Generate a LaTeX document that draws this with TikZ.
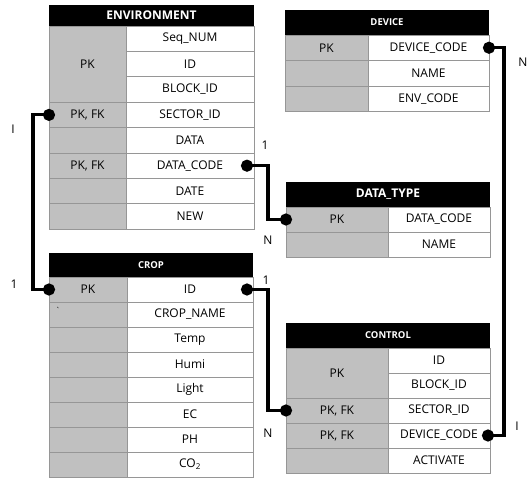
\documentclass[tikz,border=0pt]{standalone}
\usepackage{fontspec}
\setmainfont{Open Sans}
\usetikzlibrary{positioning,arrows.meta}
\definecolor{keygray}{RGB}{192,192,192}
\definecolor{linegray}{RGB}{150,150,150}
\tikzstyle{link} = [{Circle[length=12pt]}-{Circle[length=12pt]}, line width=3.2pt, shorten <=-6pt, shorten >=-6pt]
\tikzstyle{cell} = [rectangle, draw=linegray, line width=0.6pt, inner sep=0pt, outer sep=0pt,
minimum height=25pt, font=\fontsize{12}{14}\selectfont]
\tikzstyle{keycell} = [cell, fill=keygray]
\tikzstyle{fieldcell} = [cell, fill=white]
\tikzstyle{head} = [rectangle, fill=black, text=white, inner sep=0pt, outer sep=0pt, anchor=north west, minimum height=25pt]
\tikzstyle{bighead} = [head, font=\bfseries\fontsize{12}{14}\selectfont]
\tikzstyle{smallhead} = [head, font=\bfseries\fontsize{9.5}{11}\selectfont]
\tikzstyle{card} = [font=\fontsize{12}{14}\selectfont]

\begin{document}
\begin{tikzpicture}[x=1pt, y=-1pt, node distance=0pt]
				\useasboundingbox (0,0) rectangle (531,478);
				% Place nodes
				% ENVIRONMENT
				\node (envhead) [bighead, minimum width=205pt, minimum height=21pt] at (49,5) {ENVIRONMENT};
				\node (envpk) [keycell, minimum width=77pt, minimum height=76.2pt, anchor=north west] at (envhead.south west) {PK};
				\node (envsec) [keycell, minimum width=77pt, minimum height=25.4pt, below=of envpk] {PK, FK};
				\node (envk5) [keycell, minimum width=77pt, minimum height=25.4pt, below=of envsec] {};
				\node (envcode) [keycell, minimum width=77pt, minimum height=25.4pt, below=of envk5] {PK, FK};
				\node (envk7) [keycell, minimum width=77pt, minimum height=25.4pt, below=of envcode] {};
				\node (envk8) [keycell, minimum width=77pt, minimum height=25.4pt, below=of envk7] {};
				\node (envseq) [fieldcell, minimum width=128pt, minimum height=25.4pt, anchor=north east] at (envhead.south east) {Seq\_NUM};
				\node (envid) [fieldcell, minimum width=128pt, minimum height=25.4pt, below=of envseq] {ID};
				\node (envblock) [fieldcell, minimum width=128pt, minimum height=25.4pt, below=of envid] {BLOCK\_ID};
				\node (envsector) [fieldcell, minimum width=128pt, minimum height=25.4pt, below=of envblock] {SECTOR\_ID};
				\node (envdata) [fieldcell, minimum width=128pt, minimum height=25.4pt, below=of envsector] {DATA};
				\node (envdatacode) [fieldcell, minimum width=128pt, minimum height=25.4pt, below=of envdata] {DATA\_CODE};
				\node (envdate) [fieldcell, minimum width=128pt, minimum height=25.4pt, below=of envdatacode] {DATE};
				\node (envnew) [fieldcell, minimum width=128pt, minimum height=25.4pt, below=of envdate] {NEW};

				% DEVICE
				\node (devhead) [smallhead, minimum width=204pt] at (285,10) {DEVICE};
				\node (devpk) [keycell, minimum width=83pt, minimum height=25.5pt, anchor=north west] at (devhead.south west) {PK};
				\node (devk2) [keycell, minimum width=83pt, minimum height=25.5pt, below=of devpk] {};
				\node (devk3) [keycell, minimum width=83pt, minimum height=25.5pt, below=of devk2] {};
				\node (devcode) [fieldcell, minimum width=121pt, minimum height=25.5pt, anchor=north east] at (devhead.south east) {DEVICE\_CODE};
				\node (devname) [fieldcell, minimum width=121pt, minimum height=25.5pt, below=of devcode] {NAME};
				\node (devenv) [fieldcell, minimum width=121pt, minimum height=25.5pt, below=of devname] {ENV\_CODE};

				% DATA_TYPE
				\node (dthead) [bighead, minimum width=204pt] at (286,182) {DATA\_TYPE};
				\node (dtpk) [keycell, minimum width=102pt, anchor=north west] at (dthead.south west) {PK};
				\node (dtk2) [keycell, minimum width=102pt, below=of dtpk] {};
				\node (dtcode) [fieldcell, minimum width=102pt, anchor=north east] at (dthead.south east) {DATA\_CODE};
				\node (dtname) [fieldcell, minimum width=102pt, below=of dtcode] {NAME};

				% CROP
				\node (crophead) [smallhead, minimum width=204pt, minimum height=24pt] at (49,253) {CROP};
				\node (croppk) [keycell, minimum width=78pt, anchor=north west] at (crophead.south west) {PK};
				\node (cropk2) [keycell, minimum width=78pt, below=of croppk] {};
				\node (cropk3) [keycell, minimum width=78pt, below=of cropk2] {};
				\node (cropk4) [keycell, minimum width=78pt, below=of cropk3] {};
				\node (cropk5) [keycell, minimum width=78pt, below=of cropk4] {};
				\node (cropk6) [keycell, minimum width=78pt, below=of cropk5] {};
				\node (cropk7) [keycell, minimum width=78pt, below=of cropk6] {};
				\node (cropk8) [keycell, minimum width=78pt, below=of cropk7] {};
				\node (cropmark) [font=\fontsize{8}{9}\selectfont] at (58,310) {\textasciigrave};
				\node (cropid) [fieldcell, minimum width=126pt, anchor=north east] at (crophead.south east) {ID};
				\node (cropname) [fieldcell, minimum width=126pt, below=of cropid] {CROP\_NAME};
				\node (croptemp) [fieldcell, minimum width=126pt, below=of cropname] {Temp};
				\node (crophumi) [fieldcell, minimum width=126pt, below=of croptemp] {Humi};
				\node (croplight) [fieldcell, minimum width=126pt, below=of crophumi] {Light};
				\node (cropec) [fieldcell, minimum width=126pt, below=of croplight] {EC};
				\node (cropph) [fieldcell, minimum width=126pt, below=of cropec] {PH};
				\node (cropco) [fieldcell, minimum width=126pt, below=of cropph] {CO\textsubscript{2}};

				% CONTROL
				\node (ctlhead) [smallhead, minimum width=204pt] at (286,323) {CONTROL};
				\node (ctlpk) [keycell, minimum width=102pt, minimum height=50pt, anchor=north west] at (ctlhead.south west) {PK};
				\node (ctlsec) [keycell, minimum width=102pt, below=of ctlpk] {PK, FK};
				\node (ctldev) [keycell, minimum width=102pt, below=of ctlsec] {PK, FK};
				\node (ctlk5) [keycell, minimum width=102pt, below=of ctldev] {};
				\node (ctlid) [fieldcell, minimum width=102pt, anchor=north east] at (ctlhead.south east) {ID};
				\node (ctlblock) [fieldcell, minimum width=102pt, below=of ctlid] {BLOCK\_ID};
				\node (ctlsector) [fieldcell, minimum width=102pt, below=of ctlblock] {SECTOR\_ID};
				\node (ctldevcode) [fieldcell, minimum width=102pt, below=of ctlsector] {DEVICE\_CODE};
				\node (ctlactivate) [fieldcell, minimum width=102pt, below=of ctldevcode] {ACTIVATE};

				% Cardinalities
				\node (cardenvsec) [card] at (13,129) {I};
				\node (cardcroppk) [card] at (14,284) {1};
				\node (cardenvcode) [card] at (265,145) {1};
				\node (carddtpk) [card] at (268,240) {N};
				\node (cardcropid) [card] at (266,280) {1};
				\node (cardctlsec) [card] at (268,433) {N};
				\node (carddevcode) [card] at (523,62) {N};
				\node (cardctldev) [card] at (517,426) {I};

				% Draw arrows
				\draw [link] (envsec.west) -- ++(-16,0) |- (croppk.west);
				\draw [link] ([xshift=-7pt]envdatacode.east) -- ++(21,0) |- (dtpk.west);
				\draw [link] ([xshift=-6pt]cropid.east) -- ++(21,0) |- (ctlsec.west);
				\draw [link] (devcode.east) -- ++(15,0) |- ([xshift=-2pt]ctldevcode.east);

			\end{tikzpicture}
\end{document}
